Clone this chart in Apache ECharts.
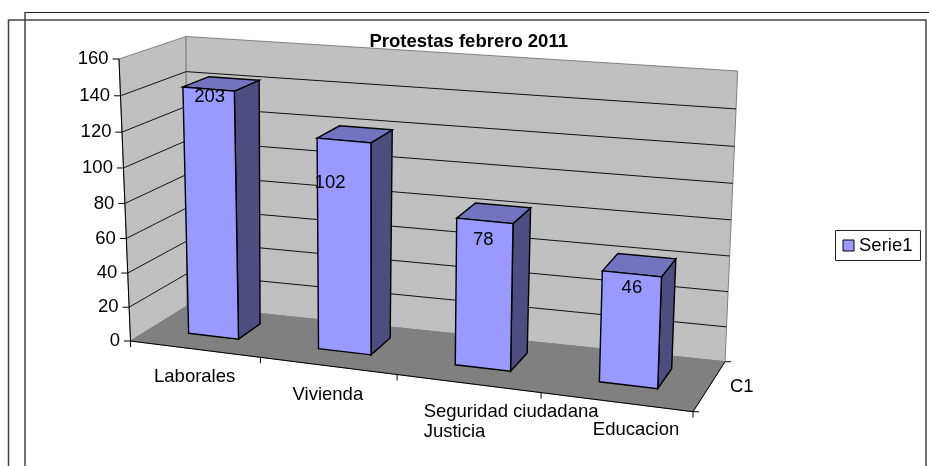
<!DOCTYPE html>
<html>
<head>
<meta charset="utf-8">
<title>Protestas febrero 2011</title>
<style>
  html, body { margin: 0; padding: 0; background: #fff; }
  #chart { width: 929px; height: 466px; }
</style>
<script src="https://cdn.jsdelivr.net/npm/echarts@6/dist/echarts.min.js"></script>
</head>
<body>
<div id="chart"></div>
<script>
// data
const categories = ['Laborales', 'Vivienda', 'Seguridad ciudadana\nJusticia', 'Educacion']
const barHeights = [142, 120, 83, 62]      // height read against the axis
const barLabels = ['203', '102', '78', '46'] // printed labels, they do not match the heights
const yTicks = [0, 20, 40, 60, 80, 100, 120, 140, 160]
const depthLabel = 'C1'
const seriesName = 'Serie1'

// layout of the fake 3d box (pixels)
const FONT = '"Liberation Sans", Arial, sans-serif'
const FONT_SIZE = 18.5
const GRID = { left: 130, top: 59, width: 563, height: 282 }
const BOX = {
  frontBottomLeft: [130.5, 341], frontBottomRight: [693, 411.7],
  backBottomRight: [725, 361.7], backBottomLeft: [187, 306],
  frontTopLeft: [119, 59], frontTopRight: [704, 108],
  backTopRight: [737.7, 71], backTopLeft: [186, 36.5]
}
const BAR_WIDTH = 0.39
const BAR_FRONT = 0.35
const BAR_BACK = 0.76
const labelShift = [[1, 8], [-14, 42], [-1.5, 19], [0, 14]]
const catLabelShift = [[0, 18], [0, 19], [-44.5, 18], [20, 18]]
const catAlign = ['center', 'center', 'left', 'center']

function lerp(a, b, t) {
  return [a[0] + (b[0] - a[0]) * t, a[1] + (b[1] - a[1]) * t]
}

// perspective spacing along width and height
function warpU(t) { return t / (t + 1.11 * (1 - t)) }
function warpV(s) { return s / (s + 1.05 * (1 - s)) }

// grid pixel + depth (0 front, 1 back) -> picture pixel
function project(gx, gy, w) {
  var u = warpU((gx - GRID.left) / GRID.width)
  var v = warpV((GRID.top + GRID.height - gy) / GRID.height)
  var bottom = lerp(lerp(BOX.frontBottomLeft, BOX.frontBottomRight, u), lerp(BOX.backBottomLeft, BOX.backBottomRight, u), w)
  var top = lerp(lerp(BOX.frontTopLeft, BOX.frontTopRight, u), lerp(BOX.backTopLeft, BOX.backTopRight, u), w)
  return lerp(bottom, top, v)
}

function poly(points, fill, stroke, lineWidth) {
  return { type: 'polygon', shape: { points: points }, style: { fill: fill, stroke: stroke, lineWidth: lineWidth } }
}
function seg(a, b, stroke, lineWidth) {
  return { type: 'line', shape: { x1: a[0], y1: a[1], x2: b[0], y2: b[1] }, style: { stroke: stroke, lineWidth: lineWidth } }
}
function label(text, x, y, align, vAlign) {
  return { type: 'text', style: { text: text, x: x, y: y, fill: '#000', font: FONT_SIZE + 'px ' + FONT, align: align, verticalAlign: vAlign, lineHeight: 20.6 } }
}

function renderWalls() {
  var b = BOX
  return {
    type: 'group',
    children: [
      poly([b.frontBottomLeft, b.frontTopLeft, b.backTopLeft, b.backBottomLeft], '#C0C0C0', '#808080', 1),
      poly([b.backBottomLeft, b.backTopLeft, b.backTopRight, b.backBottomRight], '#C0C0C0', '#808080', 1),
      poly([b.frontBottomLeft, b.backBottomLeft, b.backBottomRight, b.frontBottomRight], '#808080', '#808080', 1)
    ]
  }
}

function renderGridline(params, api) {
  var v = api.value(1)
  var c = api.coord([0, v])
  var gx = GRID.left
  var front = project(gx, c[1], 0)
  var back = project(gx, c[1], 1)
  var backRight = project(gx + GRID.width, c[1], 1)
  var children = [
    seg([front[0] - 6.5, front[1]], front, '#000', 1),
    label(String(v), front[0] - 10.5, front[1], 'right', 'middle')
  ]
  if (v > 0 && v < 160) {
    children.push(seg(front, back, '#111', 1), seg(back, backRight, '#111', 1))
  }
  return { type: 'group', children: children }
}

function renderAxes(params, api) {
  var i = api.value(0)
  var c = api.coord([i, 0])
  var band = api.size([1, 0])[0]
  var anchor = project(c[0], c[1], 0)
  var start = project(c[0] - band / 2, c[1], 0)
  var end = project(c[0] + band / 2, c[1], 0)
  var shift = catLabelShift[i]
  var children = [
    seg(start, end, '#000', 1),
    seg(end, [end[0], end[1] + 6], '#000', 1),
    label(categories[i], anchor[0] + shift[0], anchor[1] + shift[1], catAlign[i], 'top')
  ]
  if (i === 0) {
    children.push(seg(start, [start[0], start[1] + 6], '#000', 1))
    children.push(seg(project(GRID.left, GRID.top, 0), start, '#000', 1))
  }
  if (i === categories.length - 1) {
    var back = project(c[0] + band / 2, c[1], 1)
    children.push(seg(end, back, '#000', 1))
    children.push(seg(end, [end[0] + 6, end[1]], '#000', 1))
    children.push(seg(back, [back[0] + 6, back[1]], '#000', 1))
    var mid = lerp(end, back, 0.5)
    children.push(label(depthLabel, mid[0] + 21, mid[1], 'left', 'middle'))
  }
  return { type: 'group', children: children }
}

function renderBar(params, api) {
  var i = api.value(0)
  var top = api.coord([i, api.value(1)])
  var base = api.coord([i, 0])
  var half = api.size([1, 0])[0] * BAR_WIDTH / 2
  var x0 = top[0] - half
  var x1 = top[0] + half
  var ftl = project(x0, top[1], BAR_FRONT)
  var ftr = project(x1, top[1], BAR_FRONT)
  var btl = project(x0, top[1], BAR_BACK)
  var btr = project(x1, top[1], BAR_BACK)
  var fbl = project(x0, base[1], BAR_FRONT)
  var fbr = project(x1, base[1], BAR_FRONT)
  var bbr = project(x1, base[1], BAR_BACK)
  var mid = lerp(ftl, ftr, 0.5)
  var shift = labelShift[i]
  return {
    type: 'group',
    children: [
      poly([ftr, btr, bbr, fbr], '#4D4D80', '#000', 1.4),
      poly([ftl, btl, btr, ftr], '#7373BF', '#000', 1.4),
      poly([ftl, ftr, fbr, fbl], '#9999FF', '#000', 1.4),
      label(barLabels[i], mid[0] + shift[0], mid[1] + shift[1], 'center', 'middle')
    ]
  }
}

const chart = echarts.init(document.getElementById('chart'), null, { renderer: 'canvas' })
chart.setOption({
  animation: false,
  backgroundColor: '#fff',
  title: {
    text: 'Protestas febrero 2011',
    left: 369.5,
    top: 32,
    padding: 0,
    textStyle: { fontFamily: FONT, fontSize: FONT_SIZE, fontWeight: 'bold', color: '#000' }
  },
  legend: {
    data: [seriesName],
    left: 835.5,
    top: 230.5,
    padding: [5.5, 8, 5.5, 7],
    borderColor: '#222',
    borderWidth: 1,
    icon: 'rect',
    itemWidth: 11,
    itemHeight: 11,
    itemStyle: { color: '#9999FF', borderColor: '#000', borderWidth: 1 },
    textStyle: { fontFamily: FONT, fontSize: FONT_SIZE, color: '#000', padding: [0, 0, 3, 0] }
  },
  grid: GRID,
  xAxis: { type: 'category', data: categories, show: false },
  yAxis: { type: 'value', min: 0, max: 160, interval: 20, show: false },
  tooltip: { show: false },
  graphic: [
    { type: 'line', shape: { x1: 25, y1: 12.5, x2: 929, y2: 12.5 }, style: { stroke: '#222', lineWidth: 1 } },
    { type: 'line', shape: { x1: 25, y1: 12, x2: 25, y2: 466 }, style: { stroke: '#444', lineWidth: 1.5 } },
    { type: 'polyline', shape: { points: [[8.5, 466], [8.5, 20], [926, 20], [926, 466]] }, style: { stroke: '#444', lineWidth: 1.5, fill: 'none' } }
  ],
  series: [
    { type: 'custom', name: 'walls', data: [[0, 0]], renderItem: renderWalls, silent: true, z: 1 },
    { type: 'custom', name: 'gridlines', data: yTicks.map(v => [0, v]), renderItem: renderGridline, silent: true, z: 2 },
    { type: 'custom', name: 'axes', data: categories.map((c, i) => [i, 0]), renderItem: renderAxes, silent: true, z: 3 },
    {
      type: 'custom',
      name: seriesName,
      data: barHeights.map((h, i) => [i, h]),
      renderItem: renderBar,
      itemStyle: { color: '#9999FF' },
      encode: { x: 0, y: 1 },
      z: 4
    }
  ]
})
</script>
</body>
</html>
